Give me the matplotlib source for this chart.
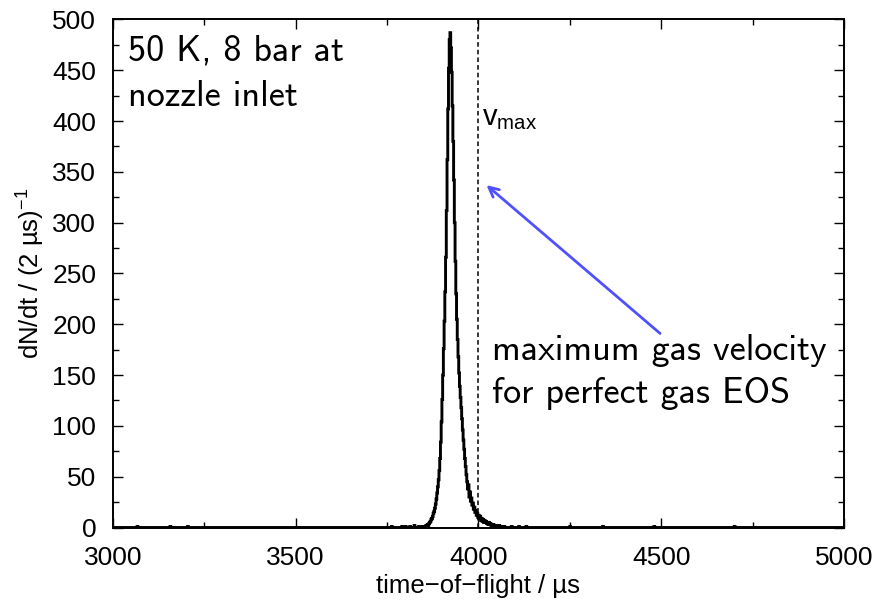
import numpy as np
import matplotlib
matplotlib.use("Agg")
import matplotlib.pyplot as plt
from matplotlib.ticker import MultipleLocator

plt.rcParams['font.family'] = ['Liberation Sans', 'DejaVu Sans']
plt.rcParams['mathtext.fontset'] = 'custom'
plt.rcParams['mathtext.rm'] = 'Liberation Sans'
plt.rcParams['mathtext.it'] = 'Liberation Sans'

# histogram, 2 us bins
bin_width = 2
t_start = 3000
t_stop = 5000

# peak region, bins starting at 3850 us
peak_t0 = 3850
peak_counts = [1, 0, 1, 2, 1, 3, 2, 4, 5, 6,
               8, 9, 11, 14, 16, 19, 23, 28, 34, 40,
               47, 56, 68, 84, 104, 126, 150, 176, 203, 232,
               266, 312, 362, 412, 452, 480, 487, 472, 448, 415,
               380, 342, 300, 262, 230, 205, 185, 168, 152, 139,
               128, 118, 107, 96, 86, 77, 68, 60, 52, 45,
               38, 42, 30, 35, 26, 29, 22, 24, 18, 20,
               15, 17, 12, 14, 10, 12, 9, 11, 7, 9,
               6, 8, 5, 7, 5, 6, 4, 5, 3, 5,
               3, 4, 2, 3, 2, 3, 1, 2, 2, 1,
               2, 1, 1, 2, 1, 1, 0, 1, 1, 0, 1]

# scattered background counts
noise_t = [3066, 3156, 3204, 3762, 3790, 3800, 3812, 3824, 3836, 3844,
           4090, 4110, 4130, 4250, 4340, 4480, 4700]
noise_counts = [1, 1, 1, 1, 1, 1, 1, 2, 1, 1, 1, 1, 1, 1, 1, 1, 1]

v_max = 4000

edges = np.arange(t_start, t_stop + bin_width, bin_width)
counts = np.zeros(len(edges) - 1)
i0 = (peak_t0 - t_start) // bin_width
counts[i0:i0 + len(peak_counts)] = peak_counts
for t, c in zip(noise_t, noise_counts):
    counts[(t - t_start) // bin_width] = c

fig = plt.figure(figsize=(8.8, 6.03), dpi=100)
ax = fig.add_axes([0.1284, 0.1252, 0.8306, 0.8425])

ax.stairs(counts, edges, color='black', linewidth=2.1)
ax.plot([v_max, v_max], [0, 500], color='black', linewidth=1.1,
        linestyle=(0, (3, 2)))

ax.set_xlim(3000, 5000)
ax.set_ylim(0, 500)
ax.xaxis.set_major_locator(MultipleLocator(500))
ax.xaxis.set_minor_locator(MultipleLocator(250))
ax.yaxis.set_major_locator(MultipleLocator(50))
ax.yaxis.set_minor_locator(MultipleLocator(25))
ax.tick_params(which='both', direction='in', top=True, right=True,
               labelsize=19, width=1.0)
ax.tick_params(which='major', length=7)
ax.tick_params(axis='x', which='major', pad=13)
ax.tick_params(axis='y', which='major', pad=12)
ax.tick_params(which='minor', length=4)
for s in ax.spines.values():
    s.set_linewidth(1.4)

ax.set_xlabel('time\u2212of\u2212flight / \u00b5s', fontsize=18.5, labelpad=3)
ax.set_ylabel('dN/dt / (2 \u00b5s)$^{\u22121}$', fontsize=18.5, labelpad=4)

cm_font = dict(family='cmss10', fontsize=26)
ax.text(3041, 459.6, '50 K, 8 bar at', va='baseline', **cm_font)
ax.text(3041, 415.3, 'nozzle inlet', va='baseline', **cm_font)
ax.text(4037, 165, 'maximum gas velocity', va='baseline', **cm_font)
ax.text(4037, 122.7, 'for perfect gas EOS', va='baseline', **cm_font)

ax.text(4010, 396, 'v$_{\\mathrm{max}}$', va='baseline', fontsize=21)

ax.annotate('', xy=(4022, 337), xytext=(4497, 191),
            arrowprops=dict(arrowstyle='->,head_length=0.7,head_width=0.35',
                            color='#5050ff', linewidth=2.0,
                            shrinkA=0, shrinkB=0))

fig.savefig('out.png', dpi=100)
